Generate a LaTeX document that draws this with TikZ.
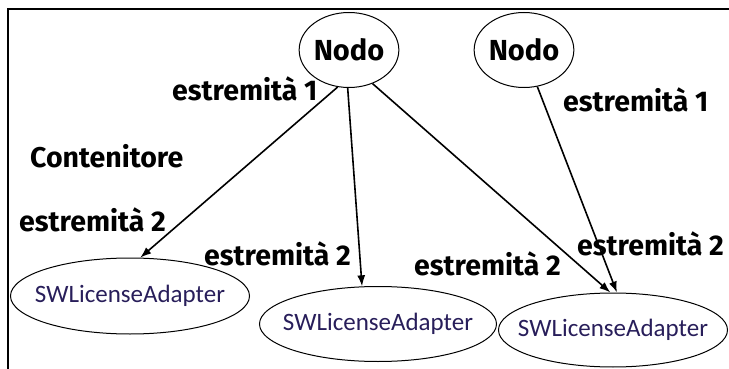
\documentclass[tikz,border=0pt]{standalone}
\usepackage{fontspec}
\setmainfont{Fira Sans}
\newfontfamily\adapterfont{Carlito}
\usetikzlibrary{arrows.meta,shapes.geometric}
\definecolor{adapterink}{RGB}{40,30,90}
\newcommand{\adaptertext}{\makebox[0pt]{SWLicenseAdapter}}
\begin{document}
\begin{tikzpicture}[x=1pt,y=-1pt,
  nodo/.style={draw,ellipse,line width=1pt,inner sep=0pt,
    minimum width=98pt,minimum height=75pt,font=\fontsize{29}{31}\selectfont\bfseries},
  adapter/.style={draw,ellipse,line width=1pt,inner sep=0pt,
    font=\fontsize{25}{27}\selectfont\adapterfont,text=adapterink},
  lbl/.style={inner sep=0pt,anchor=west,font=\fontsize{28.5}{30}\selectfont\bfseries},
  link/.style={line width=1.6pt,-{Latex[length=11pt,width=8pt]}}]
\useasboundingbox (0,0) rectangle (729,369);
% frame, open to the right and bottom
\draw[line width=2pt] (8,369) -- (8,9) -- (729,9);

\node[nodo] (n1) at (349,50) {Nodo};
\node[nodo] (n2) at (524,50) {Nodo};

\node[adapter,minimum width=239pt,minimum height=76pt] (a1) at (130,296) {\adaptertext};
\node[adapter,minimum width=237pt,minimum height=75pt] (a2) at (378,324) {\adaptertext};
\node[adapter,minimum width=229pt,minimum height=74pt] (a3) at (613,330) {\adaptertext};

\node[lbl] (e1l) at (172,89) {estremità 1};
\node[lbl] (e1r) at (563,100) {estremità 1};
\node[lbl] (cont) at (30,156) {Contenitore};
\node[lbl] (e2a) at (19,220) {estremità 2};
\node[lbl] (e2b) at (204,254) {estremità 2};
\node[lbl] (e2c) at (414,264) {estremità 2};
\node[lbl] (e2d) at (577,244) {estremità 2};

\draw[link] (n1.253) -- (a1.75);
\draw[link] (n1.268) -- (a2.113);
\draw[link] (n1.305) -- (a3.94);
\draw[link] (n2.290) -- (a3.84);
\end{tikzpicture}
\end{document}
